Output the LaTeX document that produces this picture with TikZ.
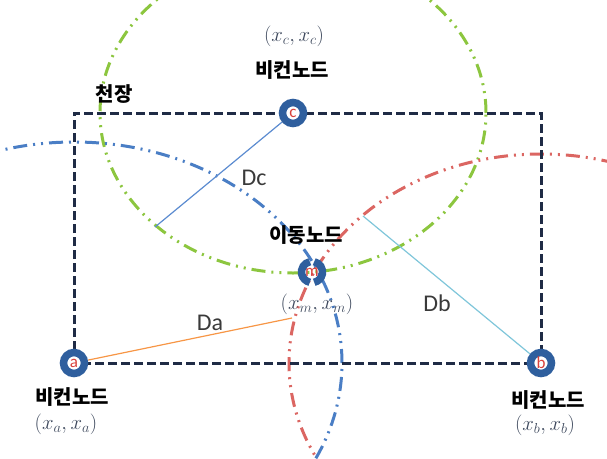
\documentclass[tikz,border=0pt]{standalone}
\usepackage{fontspec}
\setmainfont{Carlito}
\newfontfamily\hangul{Noto Sans CJK KR}
\usepackage{tikz}
\usetikzlibrary{backgrounds}

\definecolor{ringblue}{HTML}{2F5F9E}
\definecolor{letterred}{HTML}{D9413A}
\definecolor{navyline}{HTML}{1F2B45}
\definecolor{coordgray}{HTML}{3F4A5E}
\definecolor{distgray}{HTML}{3A3A3A}
\definecolor{rangeblue}{HTML}{4A7EC5}
\definecolor{rangered}{HTML}{DB6662}
\definecolor{rangegreen}{HTML}{8CC63F}
\definecolor{lineA}{HTML}{F79646}
\definecolor{lineB}{HTML}{7FC6DA}
\definecolor{lineC}{HTML}{5B8BD0}

\begin{document}
\begin{tikzpicture}[
    x=1pt, y=-1pt,
    % beacon rings and the moving node
    beacon/.style={circle, draw=ringblue, line width=7.5pt, fill=white, minimum size=21pt, inner sep=0pt, text=letterred, font=\fontsize{17}{17}\selectfont},
    mobile/.style={circle, minimum size=28pt, inner sep=0pt, text=letterred, font=\fontsize{17}{17}\selectfont},
    % labels
    korlabel/.style={font=\hangul\bfseries\fontsize{20}{24}\selectfont, text=black},
    coordlabel/.style={font=\fontsize{21}{23}\selectfont, text=coordgray},
    distlabel/.style={font=\fontsize{24}{26}\selectfont, text=distgray},
    % range curves, ceiling and distance lines
    rangeline/.style={line width=3pt, dash pattern=on 14pt off 6pt on 2pt off 6pt on 2pt off 6pt},
    ceiling/.style={draw=navyline, line width=3pt, dash pattern=on 9pt off 4pt},
    distline/.style={line width=1.2pt}
]
    \useasboundingbox (0,0) rectangle (607,458);

    % --- BEACONS AND MOVING NODE ---
    \node[beacon] (a) at (74,363)  {a};
    \node[beacon] (b) at (541,363) {b};
    \node[beacon] (c) at (293,113) {c};
    \node[mobile] (m) at (312,272) {m};
    \draw[ringblue, line width=7.5pt] ([shift={(78:10.5pt)}]m.center) arc[start angle=78, end angle=-78, radius=10.5pt];
    \draw[ringblue, line width=7.5pt] ([shift={(102:10.5pt)}]m.center) arc[start angle=102, end angle=258, radius=10.5pt];

    % --- LABELS ---
    \node[korlabel]   (ceil)  at (114,94)  {천장};
    \node[korlabel]   (nameC) at (292,70)  {비컨노드};
    \node[coordlabel] (posC)  at (294,36)  {$(x_c, x_c)$};
    \node[korlabel]   (nameM) at (306,235) {이동노드};
    \node[coordlabel] (posM)  at (317,304) {$(x_m, x_m)$};
    \node[korlabel]   (nameA) at (72,397)  {비컨노드};
    \node[coordlabel] (posA)  at (66,424)  {$(x_a, x_a)$};
    \node[korlabel]   (nameB) at (548,400) {비컨노드};
    \node[coordlabel] (posB)  at (545,425) {$(x_b, x_b)$};
    \node[distlabel]  (da)    at (210,323) {Da};
    \node[distlabel]  (dc)    at (254,178) {Dc};
    \node[distlabel]  (db)    at (437,303) {Db};

    % end points of the distance lines on the range curves
    \coordinate (daEnd)   at (292,318);
    \coordinate (dcEnd)   at (155,227);
    \coordinate (dbStart) at (363,216);

    % --- RANGES, CEILING AND DISTANCES (behind the nodes) ---
    \begin{pgfonlayer}{background}
        \clip (0,0) rectangle (607,458);
        \draw[rangeline, rangegreen] (c.center) ellipse [x radius=193pt, y radius=160pt];
        \draw[rangeline, rangeblue]  (a.center) ellipse [x radius=268pt, y radius=221pt];
        \draw[rangeline, rangered]   (b.center) ellipse [x radius=252pt, y radius=209pt];
        \draw[ceiling] (a.center) rectangle (b.center |- c.center);
        \draw[distline, draw=lineA] (a) -- (daEnd);
        \draw[distline, draw=lineC] (c) -- (dcEnd);
        \draw[distline, draw=lineB] (dbStart) -- (b);
    \end{pgfonlayer}

\end{tikzpicture}
\end{document}
